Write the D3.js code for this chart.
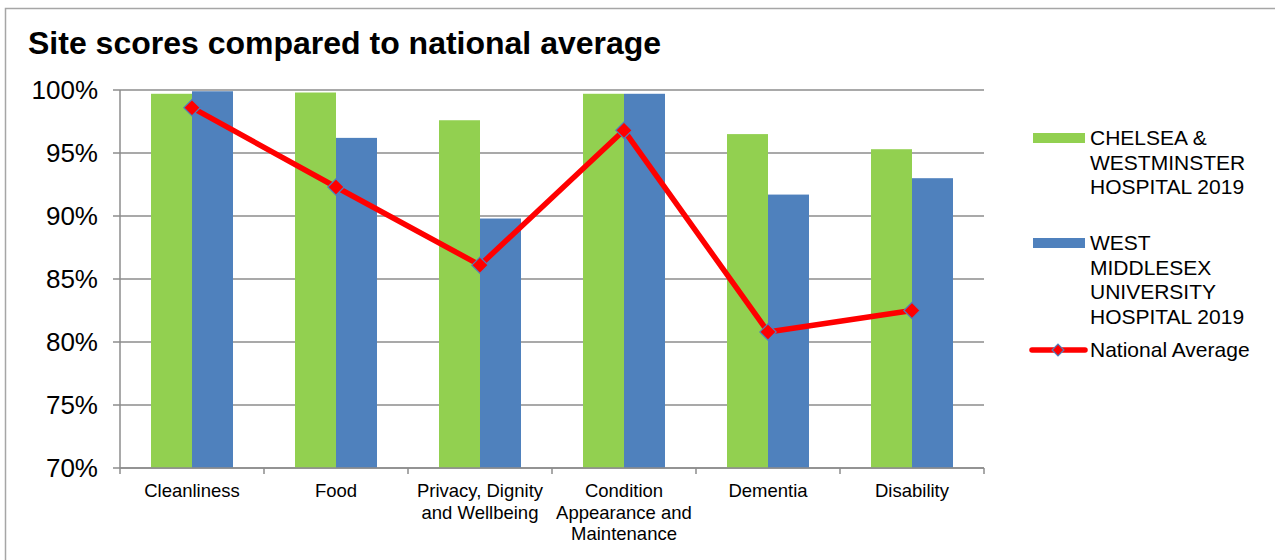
<!DOCTYPE html>
<html>
<head>
<meta charset="utf-8">
<script src="https://cdn.jsdelivr.net/npm/d3@7"></script>
<style>
  body { margin: 0; background: #fff; }
  text { font-family: "Liberation Sans", Arial, sans-serif; fill: #000; }
</style>
</head>
<body>
<div id="chart"></div>
<script>
const categories = ["Cleanliness", "Food", "Privacy, Dignity and Wellbeing", "Condition Appearance and Maintenance", "Dementia", "Disability"];
const categoryLines = [["Cleanliness"], ["Food"], ["Privacy, Dignity", "and Wellbeing"], ["Condition", "Appearance and", "Maintenance"], ["Dementia"], ["Disability"]];
const chelsea = [99.7, 99.8, 97.6, 99.7, 96.5, 95.3];
const westMid = [99.9, 96.2, 89.8, 99.7, 91.7, 93.0];
const national = [98.6, 92.3, 86.1, 96.8, 80.8, 82.5];
const yTicks = [70, 75, 80, 85, 90, 95, 100];

const width = 1275, height = 560;
const svg = d3.select("#chart").append("svg")
  .attr("width", width)
  .attr("height", height);

// frame
svg.append("rect")
  .attr("x", 5.5).attr("y", 8.5)
  .attr("width", 1290).attr("height", 600)
  .attr("fill", "none").attr("stroke", "#a6a6a6").attr("stroke-width", 1.5);

svg.append("text")
  .attr("x", 28).attr("y", 54)
  .attr("font-size", 32).attr("font-weight", "bold")
  .text("Site scores compared to national average");

const plotL = 120, plotR = 984, plotT = 90, plotB = 468;

const x = d3.scaleBand().domain(categories).range([plotL, plotR]);
const y = d3.scaleLinear().domain([70, 100]).range([plotB, plotT]);
const barW = 41;

// gridlines
svg.append("g").selectAll("line").data(yTicks).join("line")
  .attr("x1", plotL - 7).attr("x2", plotR)
  .attr("y1", d => y(d)).attr("y2", d => y(d))
  .attr("stroke", "#8c8c8c").attr("stroke-width", 1.5);

// y labels
svg.append("g").selectAll("text").data(yTicks).join("text")
  .attr("x", 98).attr("y", d => y(d) + 9)
  .attr("text-anchor", "end").attr("font-size", 26)
  .text(d => d + "%");

// bars
svg.append("g").selectAll("rect").data(chelsea).join("rect")
  .attr("x", (d, i) => x(categories[i]) + x.bandwidth() / 2 - barW)
  .attr("y", d => y(d)).attr("width", barW)
  .attr("height", d => plotB - y(d))
  .attr("fill", "#92d050");

svg.append("g").selectAll("rect").data(westMid).join("rect")
  .attr("x", (d, i) => x(categories[i]) + x.bandwidth() / 2)
  .attr("y", d => y(d)).attr("width", barW)
  .attr("height", d => plotB - y(d))
  .attr("fill", "#4f81bd");

// axes lines
svg.append("line")
  .attr("x1", plotL).attr("x2", plotL).attr("y1", plotT).attr("y2", plotB)
  .attr("stroke", "#8c8c8c").attr("stroke-width", 1.5);
svg.append("line")
  .attr("x1", plotL).attr("x2", plotR).attr("y1", plotB).attr("y2", plotB)
  .attr("stroke", "#8c8c8c").attr("stroke-width", 1.5);

const xTickPos = categories.map(c => x(c)).concat([plotR]);
svg.append("g").selectAll("line").data(xTickPos).join("line")
  .attr("x1", d => d).attr("x2", d => d)
  .attr("y1", plotB).attr("y2", plotB + 6)
  .attr("stroke", "#8c8c8c").attr("stroke-width", 1.5);

// x labels
const xl = svg.append("g").selectAll("text").data(categoryLines).join("text")
  .attr("text-anchor", "middle").attr("font-size", 18.5);
xl.selectAll("tspan").data((d, i) => d.map(t => ({ t, i }))).join("tspan")
  .attr("x", d => x(categories[d.i]) + x.bandwidth() / 2)
  .attr("y", (d, j) => 497 + j * 21.5)
  .text(d => d.t);

// national average line
const line = d3.line()
  .x((d, i) => x(categories[i]) + x.bandwidth() / 2)
  .y(d => y(d));
svg.append("path").datum(national)
  .attr("d", line)
  .attr("fill", "none").attr("stroke", "#ff0000").attr("stroke-width", 5.5)
  .attr("stroke-linejoin", "round");

const diamond = d3.symbol().type(d3.symbolDiamond2).size(170);
svg.append("g").selectAll("path").data(national).join("path")
  .attr("transform", (d, i) => `translate(${x(categories[i]) + x.bandwidth() / 2},${y(d)})`)
  .attr("d", diamond)
  .attr("fill", "#ff0000").attr("stroke", "#4f81bd").attr("stroke-width", 1.2);

// legend
const lg = svg.append("g");
const lx = 1090, fs = 21;
lg.append("rect").attr("x", 1033).attr("y", 133).attr("width", 52).attr("height", 10).attr("fill", "#92d050");
lg.append("text").attr("font-size", fs).selectAll("tspan")
  .data(["CHELSEA &", "WESTMINSTER", "HOSPITAL 2019"]).join("tspan")
  .attr("x", lx).attr("y", (d, i) => 145 + i * 24.5).text(d => d);

lg.append("rect").attr("x", 1033).attr("y", 238).attr("width", 52).attr("height", 10).attr("fill", "#4f81bd");
lg.append("text").attr("font-size", fs).selectAll("tspan")
  .data(["WEST", "MIDDLESEX", "UNIVERSITY", "HOSPITAL 2019"]).join("tspan")
  .attr("x", lx).attr("y", (d, i) => 250 + i * 24.5).text(d => d);

lg.append("line").attr("x1", 1032).attr("x2", 1085).attr("y1", 350).attr("y2", 350)
  .attr("stroke", "#ff0000").attr("stroke-width", 5.5).attr("stroke-linecap", "round");
lg.append("path").attr("transform", "translate(1058,350)")
  .attr("d", d3.symbol().type(d3.symbolDiamond2).size(90))
  .attr("fill", "#ff0000").attr("stroke", "#4f81bd").attr("stroke-width", 1.2);
lg.append("text").attr("font-size", fs).attr("x", lx).attr("y", 357).text("National Average");
</script>
</body>
</html>
